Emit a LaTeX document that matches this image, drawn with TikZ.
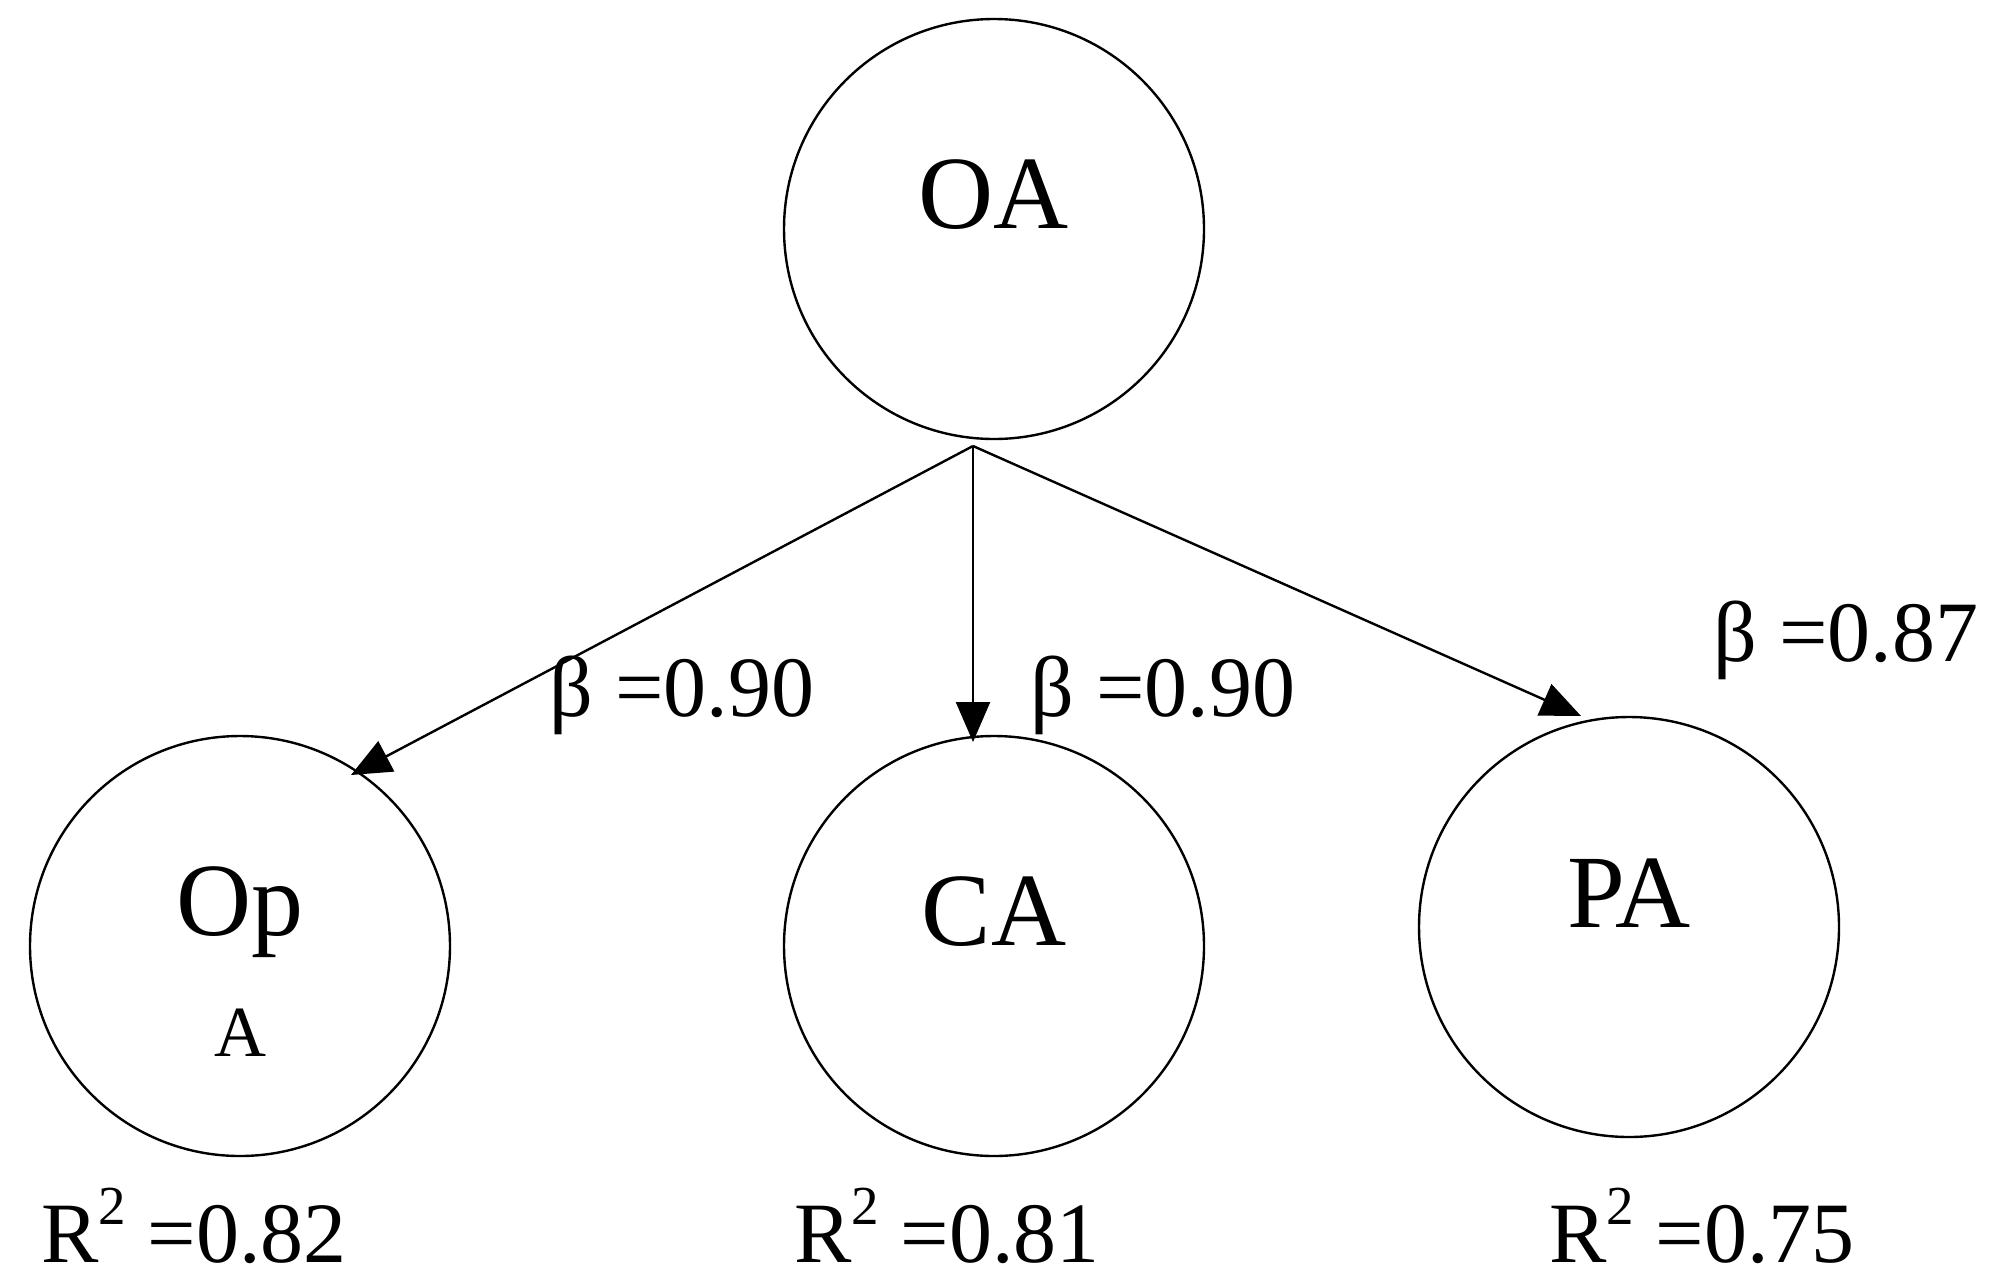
\documentclass[tikz,border=0pt]{standalone}
\usepackage{fontspec}
\setmainfont{Liberation Serif}
\usetikzlibrary{arrows.meta}
\newcommand{\sqr}{\raisebox{0.45em}{\fontsize{55}{60}\selectfont 2}}
\begin{document}
\begin{tikzpicture}[x=1pt,y=-1pt,
  circ/.style={draw,circle,line width=2.4pt,minimum size=420pt,inner sep=0pt},
  big/.style={font=\fontsize{104}{110}\selectfont},
  lab/.style={font=\fontsize{86}{90}\selectfont,inner sep=0pt},
  arr/.style={line width=2.4pt,-{Triangle[length=40pt,width=34pt]}}]
\useasboundingbox (0,0) rectangle (1999,1285);
\node[circ] (OA) at (994,229) {};
\node[big] at (994,195) {OA};
\node[circ] (OpA) at (240,946) {};
\node[big] at (240,912) {Op};
\node[font=\fontsize{72}{80}\selectfont] at (240,1033) {A};
\node[circ] (CA) at (994,946) {};
\node[big] at (994,912) {CA};
\node[circ] (PA) at (1629,927) {};
\node[big] at (1629,893) {PA};
\coordinate (o) at (973,446);
\coordinate (e1) at (351,775);
\coordinate (e2) at (973,742);
\coordinate (e3) at (1581,716);
\draw[arr] (o) -- (e1);
\draw[arr] (o) -- (e2);
\draw[arr] (o) -- (e3);
\node[lab] (b1) at (682,695) {β =0.90};
\node[lab] (b2) at (1163,695) {β =0.90};
\node[lab] (b3) at (1846,640) {β =0.87};
\node[lab] (r1) at (194,1226) {R\sqr{} =0.82};
\node[lab] (r2) at (947,1226) {R\sqr{} =0.81};
\node[lab] (r3) at (1702,1226) {R\sqr{} =0.75};
\end{tikzpicture}
\end{document}
